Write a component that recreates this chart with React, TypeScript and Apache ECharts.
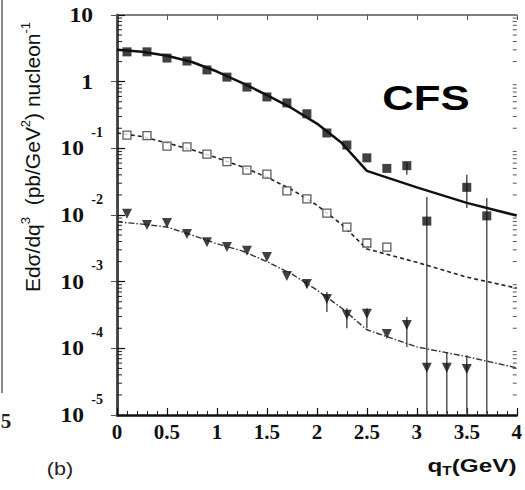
import React, { useEffect, useRef } from "react";
import * as echarts from "echarts";

// ---- data points ----
const filledX = [0.1, 0.3, 0.5, 0.7, 0.9, 1.1, 1.3, 1.5, 1.7, 1.9, 2.1, 2.3, 2.5, 2.7, 2.9, 3.1, 3.5, 3.7];
const filledY = [2.8, 2.8, 2.26, 2.04, 1.5, 1.17, 0.83, 0.59, 0.48, 0.33, 0.17, 0.112, 0.072, 0.05, 0.055, 0.0081, 0.026, 0.0097];

const openX = [0.1, 0.3, 0.5, 0.7, 0.9, 1.1, 1.3, 1.5, 1.7, 1.9, 2.1, 2.3, 2.5, 2.7];
const openY = [0.158, 0.155, 0.108, 0.105, 0.082, 0.063, 0.047, 0.041, 0.023, 0.0174, 0.0107, 0.0066, 0.0038, 0.0033];

const triX = [0.1, 0.3, 0.5, 0.7, 0.9, 1.1, 1.3, 1.5, 1.7, 1.9, 2.1, 2.3, 2.5, 2.7, 2.9, 3.1, 3.3, 3.5];
const triY = [0.0104, 0.0071, 0.0076, 0.0052, 0.0039, 0.0033, 0.0029, 0.00234, 0.00122, 0.00092, 0.00055, 0.00032, 0.00033, 0.000164, 0.000224, 0.000051, 0.000051, 0.000049];

// error bars: [x, low, high]
const filledErr = [
  [2.9, 0.04, 0.062],
  [3.1, 1e-5, 0.0186],
  [3.5, 0.0127, 0.04],
  [3.7, 1e-5, 0.018],
];
const triErr = [
  [1.9, 0.0008, 0.00105],
  [2.1, 0.00035, 0.0007],
  [2.3, 0.0002, 0.0004],
  [2.5, 0.0002, 0.0004],
  [2.9, 0.000105, 0.000295],
  [3.3, 1e-5, 0.000088],
  [3.5, 1e-5, 0.000079],
];

// ---- model curves ----
const curveX = [0, 0.25, 0.5, 0.75, 1, 1.25, 1.5, 1.75, 2, 2.25, 2.5, 3, 3.5, 4];
const curve1Y = [3.0, 2.8, 2.45, 1.97, 1.42, 0.96, 0.63, 0.4, 0.235, 0.12, 0.046, 0.026, 0.0152, 0.0098];
const curve2Y = [0.17, 0.15, 0.12, 0.095, 0.072, 0.053, 0.037, 0.024, 0.014, 0.0072, 0.0031, 0.00195, 0.00117, 0.0008];
const curve3Y = [0.0079, 0.0073, 0.0066, 0.005, 0.0037, 0.0029, 0.002, 0.0013, 0.00075, 0.0004, 0.00019, 0.000105, 0.000075, 0.000051];

// ---- axes ----
const xTickLabels = ["0", "0.5", "1", "1.5", "2", "2.5", "3", "3.5", "4"];
const yTickValues = [1e-5, 1e-4, 1e-3, 1e-2, 1e-1, 1, 10];
const yTickBase = ["10", "10", "10", "10", "10", "1", "10"];
const yTickExp = ["-5", "-4", "-3", "-2", "-1", "", ""];
const yDecades = [-5, -4, -3, -2, -1, 0];
const minorMultipliers = [2, 3, 4, 5, 6, 7, 8, 9];

const zip = (xs: number[], ys: number[]) => xs.map((x, i) => [x, ys[i]]);

export default function App() {
  const ref = useRef<HTMLDivElement>(null);

  useEffect(() => {
    const chart = echarts.init(ref.current!, undefined, { renderer: "svg" });

    const minorTicks: number[][] = [];
    yDecades.forEach((d) =>
      minorMultipliers.forEach((m) => minorTicks.push([0, m * Math.pow(10, d)]))
    );

    const serif = "'Liberation Serif', 'Times New Roman', serif";
    const sans = "'Liberation Sans', Arial, sans-serif";

    const staticGraphics: any[] = [
      {
        type: "line",
        shape: { x1: 2, y1: 0, x2: 2, y2: 393 },
        style: { stroke: "#888", lineWidth: 2 },
      },
      {
        type: "text",
        x: 6,
        y: 421,
        style: { text: "5", fontFamily: serif, fontWeight: "bold", fontSize: 21, fill: "#222", align: "center", verticalAlign: "middle" },
      },
      {
        type: "text",
        x: 426,
        y: 98,
        scaleX: 1.25,
        style: { text: "CFS", fontFamily: sans, fontWeight: "bold", fontSize: 35, fill: "#000", align: "center", verticalAlign: "middle" },
      },
      {
        type: "text",
        x: 32,
        y: 157,
        rotation: Math.PI / 2,
        style: {
          text: "Edσ/dq{sup|3}  (pb/GeV{sup|2}) nucleon{sup|-1}",
          fontFamily: sans,
          fontSize: 21,
          lineHeight: 26,
          fill: "#111",
          align: "center",
          verticalAlign: "middle",
          rich: {
            sup: { fontFamily: sans, fontSize: 13, lineHeight: 14, verticalAlign: "top", fill: "#111" },
          },
        },
      },
      {
        type: "text",
        x: 472,
        y: 465,
        scaleX: 1.28,
        style: {
          text: "q{sub|T}(GeV)",
          fontFamily: sans,
          fontWeight: "bold",
          fontSize: 19,
          lineHeight: 24,
          fill: "#111",
          align: "center",
          verticalAlign: "middle",
          rich: {
            sub: { fontFamily: sans, fontWeight: "bold", fontSize: 12, lineHeight: 12, verticalAlign: "bottom", fill: "#111" },
          },
        },
      },
      {
        type: "text",
        x: 60,
        y: 469,
        scaleX: 1.2,
        style: { text: "(b)", fontFamily: sans, fontSize: 18, fill: "#222", align: "center", verticalAlign: "middle" },
      },
    ];

    const option: any = {
      animation: false,
      backgroundColor: "#fff",
      grid: { left: 117, right: 7, top: 15, bottom: 75, containLabel: false },
      xAxis: [
        {
          type: "value",
          min: 0,
          max: 4,
          interval: 0.5,
          position: "bottom",
          axisLine: { lineStyle: { color: "#111", width: 2.5 } },
          axisTick: { inside: true, length: 7, lineStyle: { color: "#111", width: 1.2 } },
          minorTick: { show: true, splitNumber: 5, length: 4, lineStyle: { color: "#222", width: 1 } },
          splitLine: { show: false },
          axisLabel: {
            margin: 6,
            color: "#111",
            fontFamily: serif,
            fontWeight: "bold",
            fontSize: 21,
            formatter: (v: number) => xTickLabels[Math.round(v * 2)] ?? String(v),
          },
        },
        {
          type: "value",
          min: 0,
          max: 4,
          interval: 0.5,
          position: "top",
          axisLine: { show: true, lineStyle: { color: "#555", width: 1.5 } },
          axisTick: { inside: true, length: 5, lineStyle: { color: "#555" } },
          axisLabel: { show: false },
          splitLine: { show: false },
        },
      ],
      yAxis: [
        {
          type: "log",
          logBase: 10,
          min: 1e-5,
          max: 10,
          interval: 1,
          position: "left",
          axisLine: { show: true, lineStyle: { color: "#111", width: 2.5 } },
          axisTick: { inside: true, length: 8, lineStyle: { color: "#111", width: 1.2 } },
          splitLine: { show: false },
          axisLabel: { show: false },
        },
        {
          type: "log",
          logBase: 10,
          min: 1e-5,
          max: 10,
          interval: 1,
          position: "right",
          axisLine: { show: true, lineStyle: { color: "#555", width: 1.5 } },
          axisTick: { inside: true, length: 6, lineStyle: { color: "#555" } },
          axisLabel: { show: false },
          splitLine: { show: false },
        },
      ],
      series: [
        {
          type: "custom",
          name: "minorTicks",
          silent: true,
          z: 1,
          clip: false,
          data: minorTicks,
          encode: { x: 0, y: 1 },
          renderItem: (params: any, api: any) => {
            const v = api.value(1);
            const pl = api.coord([0, v]);
            const pr = api.coord([4, v]);
            return {
              type: "group",
              children: [
                { type: "line", shape: { x1: pl[0], y1: pl[1], x2: pl[0] + 5, y2: pl[1] }, style: { stroke: "#222", lineWidth: 1 } },
                { type: "line", shape: { x1: pr[0], y1: pr[1], x2: pr[0] - 4, y2: pr[1] }, style: { stroke: "#555", lineWidth: 1 } },
              ],
            };
          },
        },
        {
          type: "custom",
          name: "errFilled",
          silent: true,
          z: 2,
          data: filledErr,
          encode: { x: 0, y: [1, 2] },
          renderItem: (params: any, api: any) => {
            const a = api.coord([api.value(0), api.value(1)]);
            const b = api.coord([api.value(0), api.value(2)]);
            return { type: "line", shape: { x1: a[0], y1: a[1], x2: b[0], y2: b[1] }, style: { stroke: "#555", lineWidth: 1.5 } };
          },
        },
        {
          type: "custom",
          name: "errTri",
          silent: true,
          z: 2,
          data: triErr,
          encode: { x: 0, y: [1, 2] },
          renderItem: (params: any, api: any) => {
            const a = api.coord([api.value(0), api.value(1)]);
            const b = api.coord([api.value(0), api.value(2)]);
            return { type: "line", shape: { x1: a[0], y1: a[1], x2: b[0], y2: b[1] }, style: { stroke: "#555", lineWidth: 1.5 } };
          },
        },
        {
          type: "line",
          name: "curve1",
          z: 3,
          showSymbol: false,
          data: zip(curveX, curve1Y),
          lineStyle: { color: "#111", width: 2.5 },
        },
        {
          type: "line",
          name: "curve2",
          z: 3,
          showSymbol: false,
          data: zip(curveX, curve2Y),
          lineStyle: { color: "#222", width: 1.6, type: [4, 3] },
        },
        {
          type: "line",
          name: "curve3",
          z: 3,
          showSymbol: false,
          data: zip(curveX, curve3Y),
          lineStyle: { color: "#333", width: 1.4, type: [6, 2, 1.5, 2] },
        },
        {
          type: "scatter",
          name: "filled",
          z: 4,
          symbol: "rect",
          symbolSize: 9,
          data: zip(filledX, filledY),
          itemStyle: { color: "#111" },
        },
        {
          type: "scatter",
          name: "open",
          z: 4,
          symbol: "rect",
          symbolSize: 8,
          data: zip(openX, openY),
          itemStyle: { color: "#fff", borderColor: "#333", borderWidth: 1.3 },
        },
        {
          type: "scatter",
          name: "tri",
          z: 4,
          symbol: "triangle",
          symbolRotate: 180,
          symbolSize: 10,
          data: zip(triX, triY),
          itemStyle: { color: "#111" },
        },
      ],
      graphic: staticGraphics,
    };

    chart.setOption(option);

    // y tick labels (10 with superscript exponent) placed through the axis scale
    const axisX = chart.convertToPixel({ xAxisIndex: 0 }, 0) as number;
    const labelGraphics: any[] = [];
    yTickValues.forEach((v, i) => {
      const py = chart.convertToPixel({ yAxisIndex: 0 }, v) as number;
      const exp = yTickExp[i];
      labelGraphics.push({
        type: "text",
        x: axisX - (exp ? 33 : 24),
        y: py,
        scaleX: 1.12,
        style: {
          text: yTickBase[i],
          fontFamily: serif,
          fontWeight: "bold",
          fontSize: 21,
          fill: "#111",
          align: "right",
          verticalAlign: "middle",
        },
      });
      if (exp) {
        labelGraphics.push({
          type: "text",
          x: axisX - 14,
          y: py - 16,
          style: {
            text: exp,
            fontFamily: serif,
            fontWeight: "bold",
            fontSize: 14,
            fill: "#111",
            align: "right",
            verticalAlign: "middle",
          },
        });
      }
    });
    chart.setOption({ graphic: [...staticGraphics, ...labelGraphics] });

    return () => chart.dispose();
  }, []);

  return (
    <div
      ref={ref}
      style={{ position: "absolute", left: 0, top: 0, width: 525, height: 490, background: "#fff" }}
    />
  );
}
